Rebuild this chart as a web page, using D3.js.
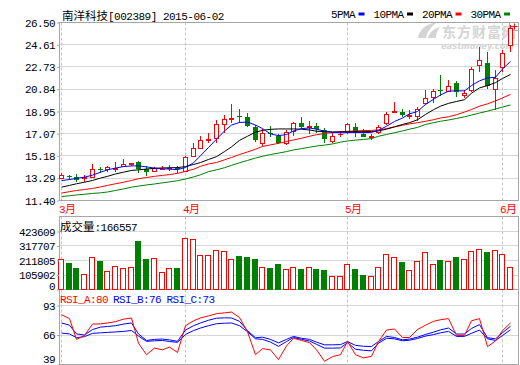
<!DOCTYPE html>
<html><head><meta charset="utf-8">
<script src="https://cdn.jsdelivr.net/npm/d3@7"></script>
<style>body{margin:0;background:#fff;}svg{display:block}</style>
</head><body><svg id="c" width="520" height="365"></svg>
<script>
// ---------------- data ----------------
const title = "南洋科技[002389] 2015-06-02";
const dates = ["2015-03-10","2015-03-11","2015-03-12","2015-03-13","2015-03-16","2015-03-17","2015-03-18","2015-03-19","2015-03-20","2015-03-23","2015-03-24","2015-03-25","2015-03-26","2015-03-27","2015-03-30","2015-03-31",
"2015-04-01","2015-04-02","2015-04-03","2015-04-07","2015-04-08","2015-04-09","2015-04-10","2015-04-13","2015-04-14","2015-04-15","2015-04-16","2015-04-17","2015-04-20","2015-04-21","2015-04-22","2015-04-23","2015-04-24","2015-04-27","2015-04-28","2015-04-29","2015-04-30",
"2015-05-04","2015-05-05","2015-05-06","2015-05-07","2015-05-08","2015-05-11","2015-05-12","2015-05-13","2015-05-14","2015-05-15","2015-05-18","2015-05-19","2015-05-20","2015-05-21","2015-05-22","2015-05-25","2015-05-26","2015-05-27","2015-05-28","2015-05-29",
"2015-06-01","2015-06-02"];
const open  = [13.35,13.52,13.41,13.35,13.40,14.10,14.06,14.08,14.30,14.48,14.70,14.06,13.90,14.05,14.12,14.15,13.90,15.20,15.85,16.55,16.68,17.87,18.30,18.55,18.45,17.60,16.25,17.15,16.90,16.25,17.30,18.00,17.60,17.75,17.40,16.45,17.00,17.25,17.60,17.05,16.80,17.20,17.95,18.95,18.95,18.55,18.55,19.65,20.15,20.80,20.70,21.40,20.35,20.77,22.90,23.10,20.90,22.70,24.60];
const high  = [13.70,13.55,13.66,13.55,14.50,14.25,14.30,14.70,14.90,14.62,14.72,14.30,14.25,14.30,14.40,14.35,15.15,16.30,16.90,17.10,18.20,18.65,19.60,19.20,18.85,17.80,17.50,17.75,17.05,17.35,18.10,18.50,18.15,18.00,17.55,17.25,17.30,18.00,18.00,17.50,17.05,17.80,18.95,19.78,19.15,19.05,19.30,20.77,20.85,22.05,21.60,21.55,20.77,22.70,24.45,24.00,22.45,24.15,26.27];
const low   = [13.20,13.18,13.00,12.95,13.30,13.70,13.80,13.85,14.30,14.30,13.70,13.50,13.80,13.95,13.90,13.75,13.78,15.10,15.75,16.25,16.25,17.10,17.95,17.95,17.60,16.40,16.05,16.80,16.18,16.10,16.90,17.50,17.05,17.15,16.30,16.25,16.75,17.05,16.80,16.75,16.50,17.02,17.80,18.90,18.50,18.35,18.15,19.50,19.65,20.30,20.60,20.20,20.07,20.60,22.30,20.90,19.10,22.30,24.00];
const close = [13.55,13.48,13.10,13.40,14.08,14.05,14.22,14.12,14.50,14.60,14.08,13.85,14.15,14.10,14.17,14.05,15.10,15.85,16.50,16.60,17.89,18.30,18.40,18.45,17.70,16.55,17.15,17.05,16.30,17.20,17.95,17.65,17.68,17.45,16.60,16.88,17.05,17.87,17.15,16.82,16.85,17.62,18.75,19.00,18.65,18.65,19.20,20.07,20.70,20.75,21.10,20.60,20.55,22.55,23.30,21.10,21.76,23.90,26.05];
const volume = [220000,191000,155000,111000,235000,208000,137000,172000,155000,162000,354000,220000,228000,126000,155000,155000,374000,367000,252000,252000,288000,281000,223000,245000,237000,223000,162000,155000,186000,148000,162000,150000,162000,148000,142000,99000,99000,186000,150000,106000,102000,162000,259000,235000,199000,142000,208000,272000,186000,215000,208000,240000,223000,281000,296000,276000,288000,259000,166557];
const ma5  = [13.09,13.18,13.28,13.38,13.55,13.80,14.00,14.15,14.28,14.33,14.34,14.25,14.15,14.10,14.06,14.02,14.20,14.60,15.20,15.90,16.60,17.30,17.80,18.02,18.05,17.80,17.50,17.05,16.90,17.00,17.30,17.50,17.55,17.45,17.28,17.18,17.15,17.16,17.18,17.16,17.18,17.35,17.70,18.10,18.40,18.75,18.95,19.55,19.98,20.35,20.68,20.70,20.70,21.15,21.55,21.80,21.85,22.55,23.20];
const ma10 = [12.53,12.68,12.82,12.95,13.10,13.30,13.45,13.65,13.80,13.95,14.00,14.07,14.13,14.16,14.18,14.19,14.28,14.45,14.62,14.88,15.12,15.55,15.95,16.50,16.85,17.20,17.35,17.44,17.47,17.47,17.47,17.45,17.38,17.28,17.24,17.22,17.22,17.23,17.23,17.24,17.25,17.30,17.45,17.65,17.85,18.00,18.25,18.70,19.10,19.40,19.64,19.80,19.95,20.50,20.95,21.15,21.40,21.75,22.10];
const ma20 = [12.03,12.15,12.25,12.33,12.42,12.55,12.68,12.82,12.95,13.10,13.25,13.35,13.45,13.53,13.60,13.70,13.88,14.05,14.30,14.50,14.62,14.85,15.05,15.30,15.52,15.75,15.98,16.12,16.25,16.40,16.54,16.68,16.85,16.98,17.08,17.17,17.23,17.27,17.30,17.33,17.35,17.38,17.50,17.64,17.78,17.90,18.00,18.12,18.25,18.40,18.50,18.68,18.90,19.12,19.40,19.60,19.85,20.10,20.40];
const ma30 = [11.74,11.80,11.87,11.93,12.00,12.05,12.12,12.25,12.38,12.53,12.62,12.72,12.80,12.90,12.98,13.08,13.22,13.40,13.58,13.85,14.00,14.18,14.38,14.60,14.80,15.00,15.15,15.30,15.42,15.55,15.69,15.80,15.92,16.02,16.10,16.20,16.35,16.45,16.52,16.58,16.65,16.85,17.00,17.15,17.30,17.45,17.60,17.85,18.00,18.12,18.23,18.36,18.50,18.65,18.82,18.98,19.16,19.33,19.50];
const rsiA = [84.5,81,62,65.5,76,76.2,77,78.2,80.5,81.6,58.5,48,54,52.4,55,50,74.5,79,81.6,83.5,85.5,86.3,87,82,69,48,53.5,52.4,43.5,56,63,61,59,52.5,42,46.2,48,60,48,45,46.5,60,70.5,71.5,63.7,63.7,71,75,78.5,80,81,65.6,65.6,79,81,55.4,60.5,70,77];
const rsiB = [77,75,67,66,71,73.2,73.8,74.5,76,77,67,61,62,62.3,61.5,60.2,70.5,74.5,77,79.5,81.4,81.7,81.6,78.5,70,63.5,64,62,58.8,62,64.7,63,62,59.5,57,57,57.2,60,56.5,55.7,55.5,60,64.7,63.7,61.6,62.3,64,66.5,68.6,70.7,72.4,66.9,66.9,72,75.5,63.5,62.5,68,74];
const rsiC = [67.8,67,63.5,64.5,67.5,68,68.4,68.8,69.3,70.1,65,60.2,60.7,61,60,59.3,66.5,70,72.4,74.5,76.3,76.8,77,74.5,69,62.5,62,59.5,55.6,60,63.7,62,60.5,57.5,54,54,54.2,59,53,52,51.5,58.5,63,62.5,60.7,61.2,62.8,65,66.4,68,69.3,64.7,64.7,67.6,70.5,62.5,61,65.5,70.8];
const priceTicks = [26.50,24.61,22.73,20.84,18.95,17.07,15.18,13.29,11.40];
const volTicks = [423609,317707,211805,105902,0];
const rsiTicks = [93,66,39];
const monthLabels = ["3月","4月","5月","6月"];
const legendNames = ["5PMA","10PMA","20PMA","30PMA"];
const volTitle = ["成交量", ":166557"];
const rsiNames = ["RSI_A:80","RSI_B:76","RSI_C:73"];

// ---------------- drawing ----------------
const RED="#ff0000", GREEN="#008000", BLUE="#0000ff", BLACK="#000000";
const BORDER="#a6a6a6", GRID="#d6d6d6", DASH="#c4c4c4";
const FM="'Liberation Mono','DejaVu Sans Mono',monospace";
const FC="'Noto Sans CJK SC','Noto Sans CJK JP',sans-serif";
const n = dates.length;
const L=59.5, R=518.5;
const P={top:22.5,bottom:200.5}, V={top:216.5,bottom:289.5}, S={top:289.5,bottom:364.5};

const svg=d3.select("#c");
const x=d3.scaleLinear().domain([0,n-1]).range([61,510]);
const px=i=>Math.round(x(i));
const yP=d3.scaleLinear().domain([11.40,26.50]).range([P.bottom,P.top]);
const yV=d3.scaleLinear().domain([0,423609]).range([V.bottom,231.5]);
const yR=d3.scaleLinear().domain([39,93]).range([S.bottom,305.5]);
const crisp=v=>Math.floor(v)+0.5;

const monthIdx=d3.range(n).filter(i=>i===0||dates[i].slice(5,7)!==dates[i-1].slice(5,7));

// grids
function hgrid(vals,scale){
  svg.append("g").selectAll("line").data(vals).join("line")
    .attr("x1",L).attr("x2",R).attr("y1",d=>crisp(scale(d))).attr("y2",d=>crisp(scale(d)))
    .attr("stroke",GRID).attr("stroke-width",1);
}
hgrid(priceTicks,yP); hgrid(volTicks.slice(0,4),yV); hgrid([93,66],yR);

[P,V,S].forEach(pn=>{
  svg.append("g").selectAll("line").data(monthIdx).join("line")
    .attr("x1",i=>px(i)+0.5).attr("x2",i=>px(i)+0.5).attr("y1",pn.top).attr("y2",pn.bottom)
    .attr("stroke",DASH).attr("stroke-dasharray","3,2");
});

// watermark
const wm=svg.append("g").attr("fill","#d4d4d4");
wm.append("path").attr("d","M418,38 C419,30 426,24 437,22 C431,27 427,32 426,38 Z");
wm.append("path").attr("d","M428,38 C429,33 433,29 440,27 C437,31 436,34 436,38 Z");
wm.append("text").attr("x",442).attr("y",36.5).attr("font-family",FC).attr("font-weight","bold").attr("font-size",14).attr("letter-spacing","1px").text("东方财富网");
wm.append("text").attr("x",441).attr("y",48.5).attr("font-family","'DejaVu Sans',sans-serif").attr("font-weight","bold").attr("font-style","italic").attr("font-size",8.5).attr("textLength",73).attr("lengthAdjust","spacingAndGlyphs").text("eastmoney.com");

// borders
[P,V,S].forEach(pn=>{
  svg.append("rect").attr("x",L).attr("y",pn.top).attr("width",R-L).attr("height",pn.bottom-pn.top)
    .attr("fill","none").attr("stroke",BORDER);
});
// small corner box with red plus
svg.append("rect").attr("x",509.5).attr("y",22.5).attr("width",9).attr("height",8).attr("fill","none").attr("stroke",BORDER);
svg.append("path").attr("d","M514.5,23.5V29.5M511.5,26.5H517.5").attr("stroke",RED);

// candles
const cg=svg.append("g");
const idx=d3.range(n);
cg.selectAll("line.w").data(idx).join("line").attr("class","w")
  .attr("x1",i=>px(i)+0.5).attr("x2",i=>px(i)+0.5)
  .attr("y1",i=>Math.round(yP(high[i]))).attr("y2",i=>Math.round(yP(low[i])))
  .attr("stroke",i=>close[i]>=open[i]?RED:GREEN);
cg.selectAll("rect.b").data(idx).join("rect").attr("class","b")
  .each(function(i){
    const up=close[i]>=open[i];
    const yt=Math.round(yP(Math.max(open[i],close[i]))), yb=Math.round(yP(Math.min(open[i],close[i])));
    const s=d3.select(this);
    if(up){
      s.attr("x",px(i)-1.5).attr("y",yt+0.5).attr("width",4).attr("height",Math.max(yb-yt,0.01))
       .attr("fill","#fff").attr("stroke",RED);
    } else {
      s.attr("x",px(i)-2).attr("y",yt).attr("width",5).attr("height",Math.max(yb-yt,1)).attr("fill",GREEN);
    }
  });

// moving averages
const lineP=d3.line().x((d,i)=>px(i)+0.5).y(d=>yP(d));
[[ma30,GREEN],[ma20,RED],[ma10,BLACK],[ma5,BLUE]].forEach(([arr,c])=>{
  svg.append("path").attr("d",lineP(arr)).attr("fill","none").attr("stroke",c).attr("stroke-width",1);
});

// volume bars
svg.append("g").selectAll("rect").data(idx).join("rect")
  .each(function(i){
    const up=close[i]>=open[i];
    const t=Math.round(yV(volume[i]));
    const s=d3.select(this);
    if(up) s.attr("x",px(i)-2.5).attr("y",t+0.5).attr("width",5).attr("height",289-t).attr("fill","#fff").attr("stroke",RED);
    else s.attr("x",px(i)-3).attr("y",t).attr("width",6).attr("height",290-t).attr("fill",GREEN);
  });

// RSI lines
const lineR=d3.line().x((d,i)=>px(i)+0.5).y(d=>yR(d));
[[rsiC,BLUE],[rsiB,BLUE],[rsiA,RED]].forEach(([arr,c])=>{
  svg.append("path").attr("d",lineR(arr)).attr("fill","none").attr("stroke",c).attr("stroke-width",1);
});

// axes (labels)
function leftAxis(scale,vals,fmt,maxBase){
  const a=svg.append("g").attr("transform",`translate(${L-0.5},0)`)
    .call(d3.axisLeft(scale).tickValues(vals).tickFormat(fmt).tickSize(2).tickPadding(2));
  a.select(".domain").remove();
  a.selectAll("line").attr("stroke",BORDER);
  a.selectAll("text").attr("font-family",FM).attr("font-size",11).attr("letter-spacing","-0.6px")
    .attr("fill","#000").attr("dy",null)
    .attr("y",function(d){const yy=scale(d)+3.6;return Math.min(yy,maxBase)-scale(d);});
}
leftAxis(yP,priceTicks,d=>d.toFixed(2),205);
leftAxis(yV,volTicks,d=>String(d),289.5);
leftAxis(yR,rsiTicks,d=>String(d),362);

// month labels
const mx=svg.append("g").attr("transform",`translate(0,${P.bottom})`)
  .call(d3.axisBottom(x).tickValues(monthIdx).tickFormat((d,k)=>monthLabels[k]).tickSize(0).tickPadding(0));
mx.select(".domain").remove();
mx.selectAll(".tick").attr("transform",i=>`translate(${px(i)-2},0)`);
mx.selectAll("text").each(function(d,k){
  const t=d3.select(this); const lab=monthLabels[k];
  t.text(null).attr("text-anchor","start").attr("dy",null).attr("y",12.5).attr("fill",RED);
  t.append("tspan").attr("font-family",FM).attr("font-size",11).attr("letter-spacing","-0.6px").text(lab.slice(0,-1));
  t.append("tspan").attr("font-family",FC).attr("font-size",11).text(lab.slice(-1));
});
mx.selectAll("text").each(function(){
  const bb=this.getBBox(); const tr=this.parentNode.transform.baseVal.consolidate().matrix.e;
  if(tr+bb.x+bb.width>519) d3.select(this).attr("x",519-(tr+bb.width));
});

// title
const tt=svg.append("text").attr("x",62).attr("y",19.5).attr("fill","#000");
tt.append("tspan").attr("font-family",FC).attr("font-size",11.5).text(title.slice(0,4));
tt.append("tspan").attr("font-family",FM).attr("font-size",11).attr("letter-spacing","-0.5px").text(title.slice(4));

// legend
let lx=331;
const legColors=[BLUE,BLACK,RED,GREEN];
legendNames.forEach((nm,k)=>{
  const t=svg.append("text").attr("x",lx).attr("y",17.5).attr("font-family",FM).attr("font-size",11)
    .attr("letter-spacing","-0.6px").attr("fill","#000").text(nm);
  const w=t.node().getComputedTextLength();
  svg.append("rect").attr("x",lx+w+3.5).attr("y",12.5).attr("width",6).attr("height",3).attr("fill",legColors[k]);
  lx=lx+w+3.5+6+9;
});

// volume title
const vt=svg.append("text").attr("x",60).attr("y",231).attr("fill","#000");
vt.append("tspan").attr("font-family",FC).attr("font-size",11.5).text(volTitle[0]);
vt.append("tspan").attr("font-family",FM).attr("font-size",11).attr("letter-spacing","-0.5px").text(volTitle[1]);

// RSI labels
const rx=[60,113,166.5], rc=[RED,BLUE,BLUE];
rsiNames.forEach((nm,k)=>{
  svg.append("text").attr("x",rx[k]).attr("y",303).attr("font-family",FM).attr("font-size",11)
    .attr("letter-spacing","-0.6px").attr("fill",rc[k]).text(nm);
});
</script>
</body></html>
